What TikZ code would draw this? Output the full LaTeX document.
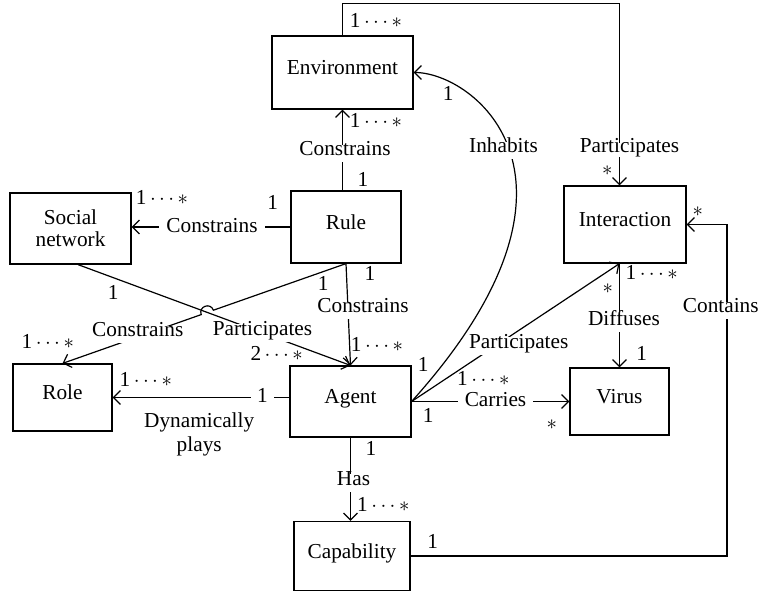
\documentclass[tikz,border=0pt]{standalone}
\usepackage{fontspec}
\setmainfont{Liberation Serif}
\usetikzlibrary{arrows.meta}
\newcommand\mst{1\,$\cdots$\,$\ast$}
\begin{document}
\begin{tikzpicture}[x=1pt,y=-1pt,
  font=\fontsize{21.3}{23}\selectfont,
  boxbase/.style={draw, line width=1.2pt, inner sep=0pt, align=center},
  box/.style={boxbase, text height=0.7em, text depth=0.25em},
  conn/.style={line width=1.2pt},
  arr/.style={conn, -{Straight Barb[length=7pt,width=14pt]}},
  lbl/.style={fill=white, inner xsep=7pt, inner ysep=4pt, text height=0.7em, text depth=0.25em, anchor=base},
  mul/.style={inner sep=0pt, anchor=base},
  st/.style={inner sep=0pt, anchor=center}]
\useasboundingbox (0,0) rectangle (760,595);

% boxes
\node[box, minimum width=141pt, minimum height=73pt] (env) at (342.5,72.5) {Environment};
\node[box, minimum width=110pt, minimum height=72pt] (rule) at (346,227) {Rule};
\node[boxbase, minimum width=121pt, minimum height=71pt, font=\fontsize{21.3}{21.7}\selectfont] (social) at (70.5,228.5) {Social\\network};
\node[box, minimum width=122pt, minimum height=77pt] (inter) at (625,224.5) {Interaction};
\node[box, minimum width=121pt, minimum height=71pt] (agent) at (350.5,401.5) {Agent};
\node[box, minimum width=99pt, minimum height=67pt] (role) at (62.5,397.5) {Role};
\node[box, minimum width=99pt, minimum height=67pt] (virus) at (619.5,401.5) {Virus};
\node[box, minimum width=116pt, minimum height=69pt] (cap) at (352,556) {Capability};

\coordinate (cx) at (727,0);
\coordinate (h1) at (213.4,310.2);
\coordinate (h2) at (201.2,314.6);

% connectors
\draw[arr] (env.north) -- ++(0,-32) -| (inter.north -| virus.north);
\draw[arr] (env.south |- rule.north) -- (env.south);
\draw[arr] (rule.west) -- (rule.west -| social.east);
\draw[arr] (rule.south) -- (h1) .. controls +(-2.91,-8.17) and +(-2.91,-8.17) .. (h2) -- (role.north);
\draw[arr] ([xshift=7.5pt]social.south) -- (agent.north);
\draw[arr] (rule.south) -- (agent.north);
\draw[arr] (agent.west |- role.east) -- (role.east);
\draw[arr] (agent.east) -- (virus.west);
\draw[arr] (agent.east) -- (inter.south -| virus.north);
\draw[arr] (inter.south -| virus.north) -- (virus.north);
\draw[arr] (agent.east) .. controls +(200.7,-222.9) and +(60,0) .. (env.east);
\draw[arr] (agent.south) -- (agent.south |- cap.north);
\draw[arr] (cap.east) -| (cx |- inter.east) -- (inter.east);

% labels
\node[mul] (m1) at (376,27.5) {\mst};
\node[lbl, inner ysep=2.5pt] (l1) at (629.5,152) {Participates};
\node[st] (s1) at (607.3,171) {$\ast$};
\node[mul] (m2) at (376,127.5) {\mst};
\node[lbl] (l2) at (345,155.7) {Constrains};
\node[mul] (m3) at (363,186.5) {1};
\node[lbl] (l3) at (503.5,152.7) {Inhabits};
\node[mul] (m4) at (448.3,100) {1};
\node[mul] (m5) at (162,204) {\mst};
\node[lbl] (l4) at (212,232.3) {Constrains};
\node[mul] (m6) at (272.7,209.3) {1};
\node[mul] (m7) at (113.3,299.3) {1};
\node[mul] (m8) at (323.3,290.5) {1};
\node[mul] (m9) at (370,280) {1};
\node[lbl] (l5) at (363,312.7) {Constrains};
\node[lbl] (l6) at (137.8,336.7) {Constrains};
\node[lbl] (l7) at (262.5,335) {Participates};
\node[mul] (m10) at (47.8,348.3) {\mst};
\node[mul] (m11) at (276.7,360.7) {2\,$\cdots$\,$\ast$};
\node[mul] (m12) at (377,351.7) {\mst};
\node[mul] (m13) at (145.8,386.7) {\mst};
\node[lbl, inner xsep=6pt] (m14) at (262.5,402.7) {1};
\node[mul] (l8a) at (199.2,427.3) {Dynamically};
\node[mul] (l8b) at (199.2,451) {plays};
\node[mul] (m15) at (423.3,371.7) {1};
\node[lbl, inner xsep=2pt] (l9) at (518.7,348.3) {Participates};
\node[mul] (m16) at (483.3,385) {\mst};
\node[lbl] (l10) at (495.5,406.7) {Carries};
\node[mul] (m17) at (428.3,422.7) {1};
\node[st] (s2) at (551.7,425) {$\ast$};
\node[st] (s3) at (607.7,288.3) {$\ast$};
\node[mul] (m18) at (651.7,279.3) {\mst};
\node[lbl] (l11) at (624,325) {Diffuses};
\node[mul] (m19) at (641.7,360) {1};
\node[st] (s4) at (697.7,211.7) {$\ast$};
\node[lbl] (l12) at (720.8,312.7) {Contains};
\node[mul] (m20) at (371,455) {1};
\node[lbl] (l13) at (353.5,485) {Has};
\node[mul] (m21) at (383.3,511) {\mst};
\node[mul] (m22) at (432.7,548.3) {1};
\end{tikzpicture}
\end{document}
